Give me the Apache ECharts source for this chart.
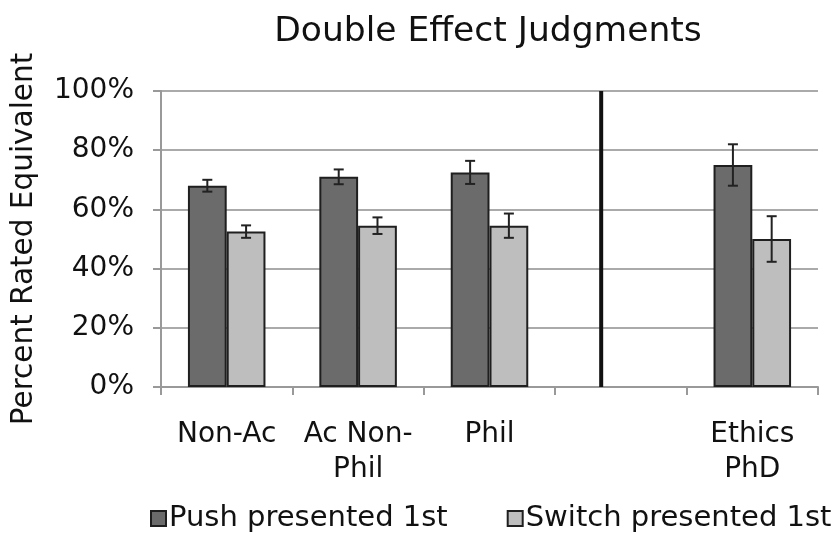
<!DOCTYPE html>
<html>
<head>
<meta charset="utf-8">
<script src="https://cdn.jsdelivr.net/npm/echarts@6/dist/echarts.min.js"></script>
<style>
  html, body { margin: 0; padding: 0; background: #fff; }
  #chart { width: 838px; height: 535px; }
</style>
</head>
<body>
<div id="chart"></div>
<script>
// data
var categories = ['Non-Ac', 'Ac Non-\nPhil', 'Phil', '', 'Ethics\nPhD'];
var push_vals = [68, 71, 72.5, null, 75];
var push_err = [2, 2.5, 3.9, null, 7];
var switch_vals = [52.5, 54.5, 54.5, null, 50];
var switch_err = [2.1, 2.8, 4.1, null, 7.7];
var y_ticks = [0, 20, 40, 60, 80, 100];
var divider_pos = 3.35; // in category units, on the hidden value axis

var CAT_GAP = 0.41;
var FONT = 'DejaVu Sans';

function err_data(vals, errs){
    var out = [];
    for (var i = 0; i < vals.length; i++){
        if (vals[i] == null) continue;
        out.push([i, vals[i] - errs[i], vals[i] + errs[i]]);
    }
    return out;
}

function err_series(vals, errs, side){
    return {
        type: 'custom',
        xAxisIndex: 0,
        z: 10,
        silent: true,
        data: err_data(vals, errs),
        renderItem: function(params, api){
            var band = api.size([1, 0])[0];
            var bw = band * (1 - CAT_GAP) / 2;
            var lo = api.coord([api.value(0), api.value(1)]);
            var hi = api.coord([api.value(0), api.value(2)]);
            var x = lo[0] + side * bw / 2;
            var cap = 5;
            var st = { stroke: '#222', lineWidth: 2 };
            return {
                type: 'group',
                children: [
                    { type: 'line', shape: { x1: x, y1: lo[1], x2: x, y2: hi[1] }, style: st },
                    { type: 'line', shape: { x1: x - cap, y1: lo[1], x2: x + cap, y2: lo[1] }, style: st },
                    { type: 'line', shape: { x1: x - cap, y1: hi[1], x2: x + cap, y2: hi[1] }, style: st }
                ]
            };
        }
    };
}

var myChart = echarts.init(document.getElementById('chart'));
var option = {
    animation: false,
    title: {
        text: 'Double Effect Judgments',
        left: 483,
        textAlign: 'center',
        top: 10,
        textStyle: { fontFamily: FONT, fontSize: 34.5, fontWeight: 'normal', color: '#111' }
    },
    legend: {
        bottom: -3,
        left: 145,
        itemGap: 59,
        itemWidth: 15,
        itemHeight: 15,
        icon: 'rect',
        textStyle: { fontFamily: FONT, fontSize: 29, color: '#111', padding: [0, 0, 0, -2] },
        data: ['Push presented 1st', 'Switch presented 1st']
    },
    grid: { left: 161, right: 20, top: 91, bottom: 148 },
    xAxis: [
        {
            type: 'category',
            data: categories,
            axisLine: { lineStyle: { color: '#999', width: 2 } },
            axisTick: { show: true, length: 8, lineStyle: { color: '#999', width: 2 } },
            axisLabel: {
                interval: 0, margin: 30, lineHeight: 35,
                fontFamily: FONT, fontSize: 28, color: '#111'
            }
        },
        { type: 'value', min: 0, max: 5, show: false }
    ],
    yAxis: {
        type: 'value',
        min: 0, max: 100, interval: 20,
        name: 'Percent Rated Equivalent',
        nameLocation: 'middle',
        nameGap: 122,
        nameTextStyle: { fontFamily: FONT, fontSize: 29.5, color: '#111' },
        axisLine: { show: true, lineStyle: { color: '#999', width: 2 } },
        axisTick: { show: true, length: 8, lineStyle: { color: '#999', width: 2 } },
        splitLine: { lineStyle: { color: '#aaa', width: 2 } },
        axisLabel: {
            margin: 27,
            fontFamily: FONT, fontSize: 28, color: '#111',
            formatter: function(v){ return y_ticks.indexOf(v) >= 0 ? v + '%' : ''; }
        }
    },
    series: [
        {
            name: 'Push presented 1st',
            type: 'bar',
            data: push_vals,
            barGap: '0%',
            barCategoryGap: (CAT_GAP * 100) + '%',
            itemStyle: { color: '#6b6b6b', borderColor: '#1f1f1f', borderWidth: 2 }
        },
        {
            name: 'Switch presented 1st',
            type: 'bar',
            data: switch_vals,
            barGap: '0%',
            barCategoryGap: (CAT_GAP * 100) + '%',
            itemStyle: { color: '#bebebe', borderColor: '#1f1f1f', borderWidth: 2 }
        },
        err_series(push_vals, push_err, -1),
        err_series(switch_vals, switch_err, 1),
        {
            type: 'line',
            xAxisIndex: 1,
            silent: true,
            symbol: 'none',
            z: 5,
            data: [[divider_pos, 0], [divider_pos, 100]],
            lineStyle: { color: '#111', width: 4 }
        }
    ]
};
myChart.setOption(option);
</script>
</body>
</html>
